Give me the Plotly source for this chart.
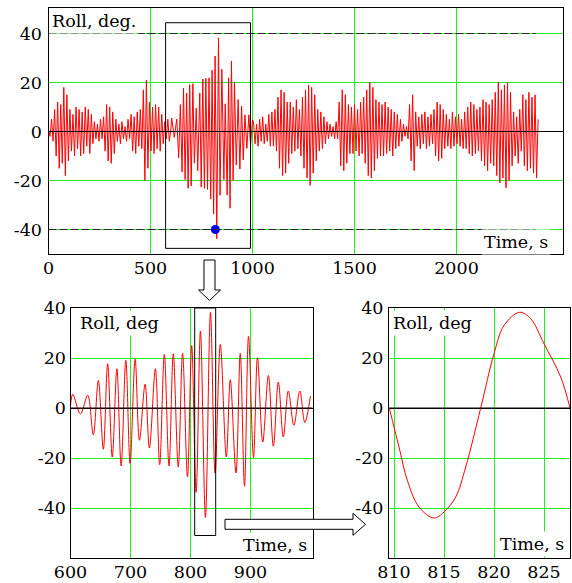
import numpy as np
import plotly.graph_objects as go

W, H = 572, 583

# ---------------- data ----------------
# Top panel: roll extrema sampled every half-period (outside the 600-1000 s window)
top_dt = 7.5
top_a_start = 0.0
top_a_vals = [1, -2, 5, -4, 9, -10, 12, -15, 11, -13,
              18, -18, 15, -12, 9, -8, 7, -10, 10, -7,
              9, -10, 8, -9, 10, -6, 9, -9, 7, -5,
              4, -3, 3, -4, 5, -3, 6, -8, 11, -12,
              10, -13, 8, -9, 5, -4, 3, -5, 4, -3,
              2, -4, 5, -3, 7, -8, 6, -9, 8, -6,
              9, -7, 17, -20, 21, -15, 12, -8, 10, -9,
              11, -7, 10, -8, 7, -5, 4, -3, 5, -4]
top_b_start = 1005.0
top_b_vals = [4, -5, 3, -6, 5, -4, 6, -5, 3, -4,
              7, -6, 8, -6, 9, -8,
              14, -15, 17, -18, 16, -17, 12, -13,
              12, -9, 10, -8, 13, -7, 9, -10,
              14, -15, 17, -19, 19, -22, 18, -17, 15, -12,
              9, -8, 8, -7, 6, -5, 4, -3,
              3, -2, 2, -3, 4, -3,
              12, -14, 17, -16, 15, -13, 11, -9,
              10, -9, 11, -8, 9, -10, 12, -9,
              14, -13, 17, -18, 20, -19, 18, -16,
              13, -11, 12, -10, 11, -10, 12, -9, 10, -8, 9, -10, 8, -7, 7, -6, 5, -4,
              3, -2, 2, -3,
              11, -12, 15, -16,
              8, -6, 6, -7, 7, -5, 8, -7, 6, -6, 7, -5,
              9, -10, 12, -12, 11, -11, 9, -7,
              7, -6, 5, -7, 8, -6, 6, -5, 7, -6, 5, -7,
              8, -7, 10, -9, 12, -10, 11, -9, 9, -8,
              10, -12, 13, -14, 12, -16, 11, -13,
              13, -14, 16, -18, 20, -21, 17, -19, 19, -23,
              20, -20, 16, -14,
              8, -10, 6, -13, 9, -8,
              15, -14, 13, -16, 16, -15, 14, -17, 15, -19,
              5]

# Middle panel: extrema times / values, 600-1000 s
mid_t = [600, 603.8, 616.6, 628.7, 638, 646.4, 654.7, 661.9, 669.6, 677.3,
         684.4, 692.2, 699.4, 707.7, 714.9, 724.3, 731.5, 741.5, 748.6, 756.4,
         764.2, 771.3, 779.6, 786.8, 795, 802, 809.4, 816.6, 824.9, 833.3,
         841, 849.7, 859.7, 866.3, 875.8, 882.9, 890, 896.7, 905, 911.6,
         920.4, 929.8, 938.1, 946.4, 954.7, 963, 972.3, 982.2, 990.5, 999.9]
mid_v = [1, 5.5, -2.4, 5.1, -10.7, 11, -16.5, 17.7, -19.6, 15.7,
         -23.2, 19.1, -22.2, 19.5, -12.9, 9.5, -16, 15.7, -22.7, 21.4,
         -23.2, 21.7, -23.6, 21.9, -27.6, 25, -33.7, 30.8, -43.8, 38.2,
         -26, 25.4, -19.6, 11.3, -26, 21.9, -31.3, 28.7, -19.9, 20.1,
         -13.6, 13, -15.3, 10.4, -11.6, 6.8, -6.9, 6.8, -5.8, 4.7]

# Right panel: one roll cycle
zoom_t = [809.53, 810.5, 811.33, 812.5, 814, 815, 816.17, 817.17, 818.67,
          820, 821, 822.57, 823.67, 825, 826.67, 827.6]
zoom_v = [0, -15.6, -28.9, -39.6, -44, -41.6, -35.6, -23.6, 0,
          21.7, 33, 38.3, 35.7, 25.7, 12.4, 0]

event_t = [818]
event_v = [-40]
threshold_levels = [40, -40]
threshold_end = 2390

top_xticks = [0, 500, 1000, 1500, 2000]
mid_xticks = [600, 700, 800, 900]
zoom_xticks = [810, 815, 820, 825]
yticks = [-40, -20, 0, 20, 40]
ytick_text = ["-40", "-20", "0", "20", "40"]

# ---------------- build ----------------
top_t = np.concatenate([top_a_start + top_dt * np.arange(len(top_a_vals)),
                        mid_t,
                        top_b_start + top_dt * np.arange(len(top_b_vals))])
top_v = np.concatenate([top_a_vals, mid_v, top_b_vals])


def px_x(x):
    return x / W


def px_y(y):
    return 1 - y / H


# panel frames in pixels
TOP_L, TOP_R, TOP_T, TOP_B = 48.5, 562.5, 7.5, 253.5
TOP_X0, TOP_XS = 0.0, 0.204          # value at left edge, px per second
TOP_Y0PX, TOP_YS = 131.5, 2.45       # pixel row of 0, px per degree
MID_L, MID_R, MID_T, MID_B = 70.5, 312.5, 308.0, 558.0
MID_X0, MID_XS = 600.0, 0.6
ZM_L, ZM_R, ZM_T, ZM_B = 389.0, 570.0, 308.0, 558.0
ZM_X0, ZM_XS = 809.5, 10.0
LOW_Y0PX, LOW_YS = 408.0, 2.5

FONT = "DejaVu Serif"
FS = 17.5
GRID = "#22ee22"
RED = "#ff0000"

fig = go.Figure()
fig.add_trace(go.Scatter(x=top_t, y=top_v, mode="lines",
                         line=dict(color=RED, width=1), xaxis="x", yaxis="y"))
fig.add_trace(go.Scatter(x=event_t, y=event_v, mode="markers",
                         marker=dict(color="#0000ff", size=9), xaxis="x", yaxis="y"))
fig.add_trace(go.Scatter(x=mid_t, y=mid_v, mode="lines",
                         line=dict(color=RED, width=1, shape="spline", smoothing=1),
                         xaxis="x2", yaxis="y2"))
fig.add_trace(go.Scatter(x=zoom_t, y=zoom_v, mode="lines",
                         line=dict(color=RED, width=1, shape="spline", smoothing=1),
                         xaxis="x3", yaxis="y3"))


def ax(**kw):
    d = dict(showgrid=True, gridcolor=GRID, gridwidth=1, zeroline=False,
             showline=True, linecolor="#000000", linewidth=1, mirror=True,
             automargin=False, ticks="",
             tickfont=dict(family=FONT, size=FS, color="#000000"))
    d.update(kw)
    return d


def xr(l, r, x0, s):
    return [x0, x0 + (r - l) / s]


def yr(t, b, y0px, s):
    return [-(b - y0px) / s, (y0px - t) / s]


yzero = dict(zeroline=True, zerolinecolor="#000000", zerolinewidth=1)

fig.update_layout(
    template="none",
    font=dict(family=FONT, size=FS, color="#000000"),
    width=W, height=H, margin=dict(l=0, r=0, t=0, b=0, pad=0),
    paper_bgcolor="white", plot_bgcolor="white", showlegend=False,
    xaxis=ax(domain=[px_x(TOP_L), px_x(TOP_R)], range=xr(TOP_L, TOP_R, TOP_X0, TOP_XS),
             anchor="y", tickvals=top_xticks, ticklabelstandoff=-2),
    yaxis=ax(domain=[px_y(TOP_B), px_y(TOP_T)], range=yr(TOP_T, TOP_B, TOP_Y0PX, TOP_YS),
             anchor="x", tickvals=yticks, ticktext=ytick_text, ticklabelstandoff=2, **yzero),
    xaxis2=ax(domain=[px_x(MID_L), px_x(MID_R)], range=xr(MID_L, MID_R, MID_X0, MID_XS),
              anchor="y2", tickvals=mid_xticks, ticklabelstandoff=-2),
    yaxis2=ax(domain=[px_y(MID_B), px_y(MID_T)], range=yr(MID_T, MID_B, LOW_Y0PX, LOW_YS),
              anchor="x2", tickvals=yticks, ticktext=ytick_text, ticklabelstandoff=0, **yzero),
    xaxis3=ax(domain=[px_x(ZM_L), px_x(ZM_R)], range=xr(ZM_L, ZM_R, ZM_X0, ZM_XS),
              anchor="y3", tickvals=zoom_xticks, ticklabelstandoff=-2),
    yaxis3=ax(domain=[px_y(ZM_B), px_y(ZM_T)], range=yr(ZM_T, ZM_B, LOW_Y0PX, LOW_YS),
              anchor="x3", tickvals=yticks, ticktext=ytick_text, ticklabelstandoff=1, **yzero),
)

shapes = []
for xa, ya in (("x", "y"), ("x2", "y2"), ("x3", "y3")):
    shapes.append(dict(type="line", xref=f"{xa} domain", yref=ya, x0=0, x1=1, y0=0, y1=0,
                       line=dict(color="#000000", width=1), layer="above"))
for lvl in threshold_levels:
    shapes.append(dict(type="line", xref="x", yref="y", x0=0, x1=threshold_end, y0=lvl, y1=lvl,
                       line=dict(color="#2a2a2a", width=1, dash="8px,3px"), layer="above"))
shapes.append(dict(type="rect", xref="x", yref="y", x0=574, x1=990, y0=-47.7, y1=44.4,
                   line=dict(color="#000000", width=1), fillcolor="rgba(0,0,0,0)", layer="above"))
shapes.append(dict(type="rect", xref="x2", yref="y2", x0=807, x1=842, y0=-51, y1=40,
                   line=dict(color="#000000", width=1), fillcolor="rgba(0,0,0,0)", layer="above"))


def path(points):
    return "M " + " L ".join(f"{px_x(x):.5f},{px_y(y):.5f}" for x, y in points) + " Z"


down_arrow = [(204, 260), (215, 260), (215, 290), (220.5, 290), (209.5, 300.5),
              (198.5, 290), (204, 290)]
right_arrow = [(225, 519.3), (353, 519.3), (353, 513.3), (365.5, 524.3), (353, 535.3),
               (353, 529.3), (225, 529.3)]
for pts in (down_arrow, right_arrow):
    shapes.append(dict(type="path", xref="paper", yref="paper", path=path(pts),
                       fillcolor="white", line=dict(color="#000000", width=1), layer="above"))
fig.update_layout(shapes=shapes)

annots = [
    dict(text="Roll, deg.", x=px_x(49), y=px_y(8), xanchor="left", yanchor="top"),
    dict(text="Time, s", x=px_x(551), y=px_y(241.5), xanchor="right", yanchor="middle"),
    dict(text="Roll, deg", x=px_x(77), y=px_y(323.3), xanchor="left", yanchor="middle"),
    dict(text="Time, s", x=px_x(310), y=px_y(545), xanchor="right", yanchor="middle"),
    dict(text="Roll, deg", x=px_x(389.5), y=px_y(323.3), xanchor="left", yanchor="middle"),
    dict(text="Time, s", x=px_x(567), y=px_y(544), xanchor="right", yanchor="middle"),
]
for a in annots:
    a.update(xref="paper", yref="paper", showarrow=False,
             font=dict(family=FONT, size=FS, color="#000000"),
             bgcolor="white", borderpad=2)
fig.update_layout(annotations=annots)

fig.write_html("out.html")
